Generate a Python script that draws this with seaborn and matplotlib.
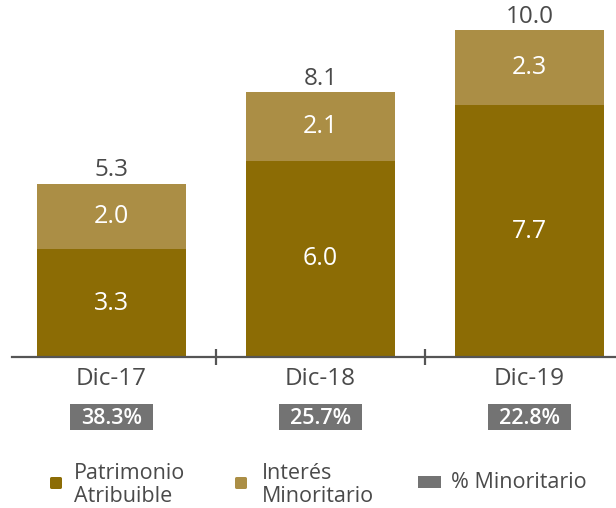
import matplotlib
matplotlib.use("Agg")
import matplotlib.pyplot as plt
from matplotlib.patches import FancyBboxPatch, Rectangle
import matplotlib.transforms as mtransforms
import seaborn as sns
import pandas as pd

# Data
periods = ["Dic-17", "Dic-18", "Dic-19"]
patrimonio = [3.3, 6.0, 7.7]
interes = [2.0, 2.1, 2.3]
totales = [5.3, 8.1, 10.0]
pct_minoritario = ["38.3%", "25.7%", "22.8%"]

C_PAT = "#8C6C05"
C_INT = "#AB8E45"
C_PCT = "#737373"
C_TXT = "#4A4A4A"

sns.set_style("white")
plt.rcParams["font.family"] = ["Open Sans", "DejaVu Sans"]

W, H = 616, 508
fig = plt.figure(figsize=(W / 100, H / 100), dpi=100)

def fx(px):
    return px / W

def fy(py):
    return 1 - py / H

ax = fig.add_axes([fx(12), fy(357), fx(604), 357 / H])

df = pd.DataFrame({"periodo": periods, "patrimonio": patrimonio,
                   "interes": interes, "total": totales})

# Stacked bars: full total first, then the attributable part over it
sns.barplot(data=df, x="periodo", y="total", color=C_INT, width=0.71,
            saturation=1, ax=ax, linewidth=0)
sns.barplot(data=df, x="periodo", y="patrimonio", color=C_PAT, width=0.71,
            saturation=1, ax=ax, linewidth=0)

ax.set_xlim(-0.476, 2.414)
ax.set_ylim(0, 10.92)
ax.set_xlabel("")
ax.set_ylabel("")
ax.set_yticks([])
for s in ["left", "top", "right"]:
    ax.spines[s].set_visible(False)
ax.spines["bottom"].set_color("#555555")
ax.spines["bottom"].set_linewidth(1.6)

ax.set_xticks([0.5, 1.5], minor=True)
ax.tick_params(axis="x", which="minor", bottom=True, direction="inout",
               length=12, width=1.6, color="#555555")
ax.tick_params(axis="x", which="major", bottom=True, length=0, pad=7,
               labelsize=17.5, labelcolor=C_TXT)

# Segment labels
for i, (p, it, t) in enumerate(zip(patrimonio, interes, totales)):
    ax.text(i, p / 2, f"{p:.1f}", ha="center", va="center",
            color="white", fontsize=18, fontweight="medium")
    ax.text(i, p + it / 2, f"{it:.1f}", ha="center", va="center",
            color="white", fontsize=18, fontweight="medium")
    ax.annotate(f"{t:.1f}", (i, t), xytext=(0, 1), textcoords="offset points",
                ha="center", va="bottom", color=C_TXT, fontsize=17.5)

# Minority share boxes under each period
trans = mtransforms.blended_transform_factory(ax.transData, fig.transFigure)
box_w = 0.397
for i, pct in enumerate(pct_minoritario):
    ax.add_patch(Rectangle((i - box_w / 2, fy(430)), box_w, 26 / H,
                           transform=trans, fc=C_PCT, ec="none",
                           clip_on=False))
    ax.text(i, fy(419), pct, transform=trans, ha="center", va="center",
            color="white", fontsize=15.5, fontweight="semibold", clip_on=False)

# Legend
def legend_square(x, y, w, h, color, rounded=True):
    if rounded:
        patch = FancyBboxPatch((fx(x), fy(y + h)), fx(w), h / H,
                               boxstyle="round,pad=0,rounding_size=0.003",
                               transform=fig.transFigure, fc=color, ec="none")
    else:
        patch = Rectangle((fx(x), fy(y + h)), fx(w), h / H,
                          transform=fig.transFigure, fc=color, ec="none")
    fig.patches.append(patch)

legend_square(50, 477, 12, 12, C_PAT)
fig.text(fx(74), fy(485), "Patrimonio\nAtribuible", ha="left", va="center",
         color=C_TXT, fontsize=15.5, linespacing=1.12)
legend_square(235, 477, 12, 12, C_INT)
fig.text(fx(262), fy(485), "Interés\nMinoritario", ha="left", va="center",
         color=C_TXT, fontsize=15.5, linespacing=1.12)
legend_square(418, 476, 23, 12, C_PCT, rounded=False)
fig.text(fx(451), fy(483), "% Minoritario", ha="left", va="center",
         color=C_TXT, fontsize=15.5)

fig.savefig("out.png", dpi=100)
